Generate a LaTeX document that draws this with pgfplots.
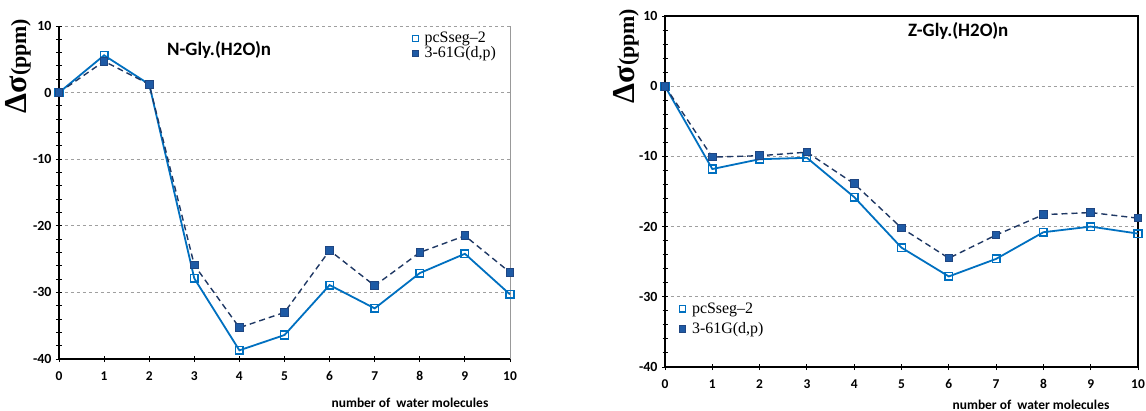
\documentclass[border=0pt]{standalone}
\usepackage{fontspec}
\setmainfont{Liberation Serif}
\newfontfamily\carlito{Carlito}
\usepackage{pgfplots}
\usepackage{pgfplotstable}
\pgfplotsset{compat=1.18}
\definecolor{lblue}{RGB}{0,112,192}
\definecolor{dblue}{RGB}{31,70,130}
\definecolor{dfill}{RGB}{30,90,165}
\definecolor{navy}{RGB}{31,56,100}

\pgfplotstableread{
n pcs g
0 0 0
1 5.6 4.7
2 1.25 1.25
3 -27.9 -25.9
4 -38.7 -35.3
5 -36.4 -33.0
6 -28.9 -23.7
7 -32.4 -29.0
8 -27.1 -24.0
9 -24.2 -21.5
10 -30.3 -27.0
}\Ngly
\pgfplotstableread{
n pcs g
0 0 0
1 -11.8 -10.1
2 -10.4 -9.9
3 -10.2 -9.4
4 -15.8 -13.9
5 -23.0 -20.2
6 -27.1 -24.5
7 -24.6 -21.2
8 -20.8 -18.3
9 -20.0 -18.0
10 -21.0 -18.8
}\Zgly

\pgfplotsset{
 common/.style={
  scale only axis, xmin=0, xmax=10, ymin=-40, ymax=10,
  xtick={0,...,10}, ytick={-40,-30,...,10}, minor y tick num=4,
  tick align=center, major tick length=6bp, minor tick length=5bp,
  /pgf/number format/assume math mode=true,
  yticklabel style={font=\carlito\bfseries\fontsize{14}{14}\selectfont, xshift=-1bp},
  xticklabel style={font=\carlito\bfseries\fontsize{13.5}{13.5}\selectfont, yshift=-6bp},
  ymajorgrids, major grid style={gray!75, dashed, line width=0.7bp},
  tick style={black, line width=1bp},
  clip=false,
  legend cell align=left,
 },
 pcs/.style={lblue, line width=1.8bp, mark=square, mark size=3.8bp,
   mark options={solid, draw=lblue, fill=white, line width=1.5bp}},
 gg/.style={navy, dash pattern=on 6bp off 4bp, line width=1.4bp, mark=square*, mark size=3.8bp,
   mark options={solid, draw=dblue, fill=dfill, line width=1bp}},
 markleg/.style={legend image code/.code={\node[draw=none, fill=none, inner sep=0pt, minimum size=0pt] at (12bp,0cm) {};\draw[##1] plot coordinates {(4.25bp,0cm)};}},
 leg1/.style={markleg, only marks, lblue, mark=square, mark size=3.2bp, mark options={draw=lblue, fill=white, line width=1.4bp}},
 leg2/.style={markleg, only marks, dblue, mark=square*, mark size=3.2bp, mark options={draw=dblue, fill=dfill, line width=0.8bp}},
}

\begin{document}
\begin{tikzpicture}
\useasboundingbox (0,0) rectangle (1146bp,411bp);
% left chart
\begin{axis}[common, at={(59bp,52bp)}, anchor=south west, width=451bp, height=333bp,
  axis lines*=left, axis line style={line width=1.8bp, black, -},
  legend style={at={(rel axis cs:0.783,0.985)}, anchor=north west, draw=none, fill=none,
    font=\fontsize{16}{16}\selectfont, inner sep=0pt, row sep=0bp,
    nodes={inner sep=1.2bp}}]
\draw[gray!80, line width=0.8bp] (rel axis cs:1,0) -- (rel axis cs:1,1);
\addplot[pcs, forget plot] table[x=n, y=pcs] {\Ngly};
\addplot[gg, forget plot] table[x=n, y=g] {\Ngly};
\addlegendimage{leg1}
\addlegendentry{pcSseg–2}
\addlegendimage{leg2}
\addlegendentry{3-61G(d,p)}
\end{axis}
% right chart
\begin{axis}[common, at={(665bp,44bp)}, anchor=south west, width=473bp, height=351bp,
  xtick pos=bottom, ytick pos=left, axis line style={line width=1.5bp, black},
  legend style={at={(rel axis cs:0.03,0.188)}, anchor=north west, draw=none, fill=none,
    font=\fontsize{16}{16}\selectfont, inner sep=0pt, row sep=5bp,
    nodes={inner sep=1.5bp}}]
\addplot[pcs, forget plot] table[x=n, y=pcs] {\Zgly};
\addplot[gg, forget plot] table[x=n, y=g] {\Zgly};
\addlegendimage{leg1}
\addlegendentry{pcSseg–2}
\addlegendimage{leg2}
\addlegendentry{3-61G(d,p)}
\end{axis}
% titles
\node[anchor=west, font=\carlito\bfseries\fontsize{19}{19}\selectfont, inner sep=0pt] at (167bp,361bp) {N-Gly.(H2O)n};
\node[anchor=west, font=\carlito\bfseries\fontsize{19}{19}\selectfont, inner sep=0pt] at (908bp,380bp) {Z-Gly.(H2O)n};
% y labels
\node[rotate=90, inner sep=0pt, font=\bfseries] at (18bp,345bp) {\fontsize{32}{32}\selectfont Δσ\fontsize{22}{22}\selectfont(ppm)};
\node[rotate=90, inner sep=0pt, font=\bfseries] at (626bp,355bp) {\fontsize{32}{32}\selectfont Δσ\fontsize{22}{22}\selectfont(ppm)};
% x labels
\node[font=\carlito\bfseries\fontsize{13.5}{13.5}\selectfont, inner sep=0pt] at (410bp,8bp) {number of\ \ water molecules};
\node[font=\carlito\bfseries\fontsize{13.5}{13.5}\selectfont, inner sep=0pt] at (1031bp,6bp) {number of\ \ water molecules};
\end{tikzpicture}
\end{document}
